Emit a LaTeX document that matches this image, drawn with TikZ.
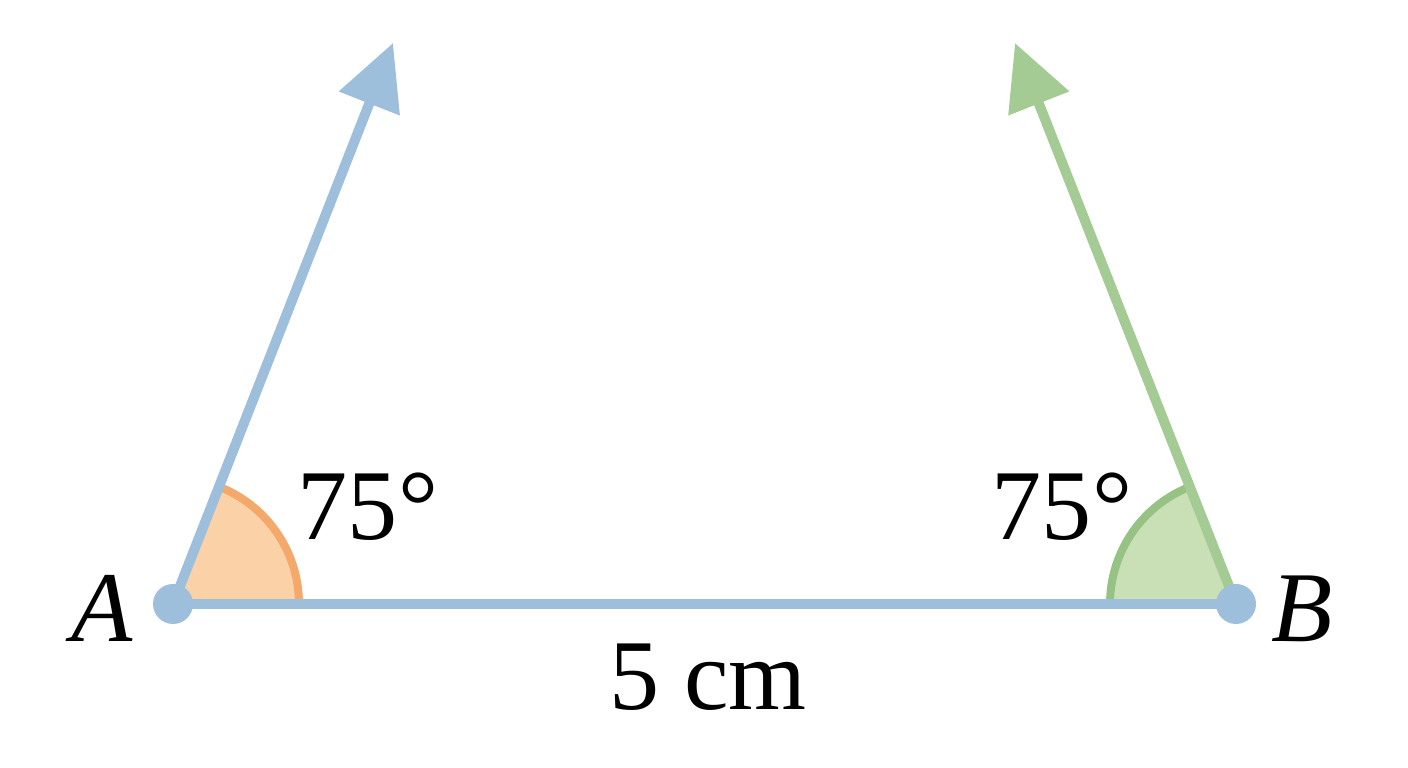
\documentclass[tikz,border=0pt]{standalone}
\usepackage{fontspec}
\setmainfont{Liberation Serif}
\usetikzlibrary{arrows.meta}
\definecolor{rayblue}{RGB}{158,191,219}
\definecolor{raygreen}{RGB}{165,203,149}
\definecolor{arcorange}{RGB}{244,168,106}
\definecolor{fillorange}{RGB}{251,210,168}
\definecolor{arcgreen}{RGB}{150,195,132}
\definecolor{fillgreen}{RGB}{201,224,183}
\tikzset{
  ray/.style={line width=1mm, -{Triangle[length=6.5mm,width=6.3mm]}},
  lbl/.style={anchor=base, inner sep=0pt, font=\fontsize{28.5}{34}\selectfont}
}
\begin{document}
\begin{tikzpicture}
    \useasboundingbox (0,0) rectangle (14.08,7.68);
        \coordinate (A) at (1.73, 1.64);
        \coordinate (B) at (12.36, 1.64);
        \coordinate (tipA) at (3.93, 7.25);
        \coordinate (tipB) at (10.15, 7.25);

        %%angles
        \draw[arcorange, line width=.8mm, fill=fillorange]
            (A) -- ++(0:1.26) arc(0:68.6:1.26) -- cycle;
        \draw[arcgreen, line width=.8mm, fill=fillgreen]
            (B) -- ++(180:1.26) arc(180:111.5:1.26) -- cycle;

        %%rays
        \draw[ray, rayblue] (A) to (tipA);
        \draw[ray, raygreen] (B) to (tipB);
        \draw[rayblue, line width=1mm] (A) to (B);
        \fill[rayblue] (A) circle(.2);
        \fill[rayblue] (B) circle(.2);

        %%nodes
        \node[lbl] (angA) at(3.68, 2.28){75°};
        \node[lbl] (angB) at(10.62, 2.28){75°};
        \node[lbl] (len) at(7.08, .58){5 cm};
        \node[lbl] (labA) at(1.02, 1.26){\itshape A};
        \node[lbl] (labB) at(13.02, 1.26){\itshape B};
    \end{tikzpicture}
\end{document}
